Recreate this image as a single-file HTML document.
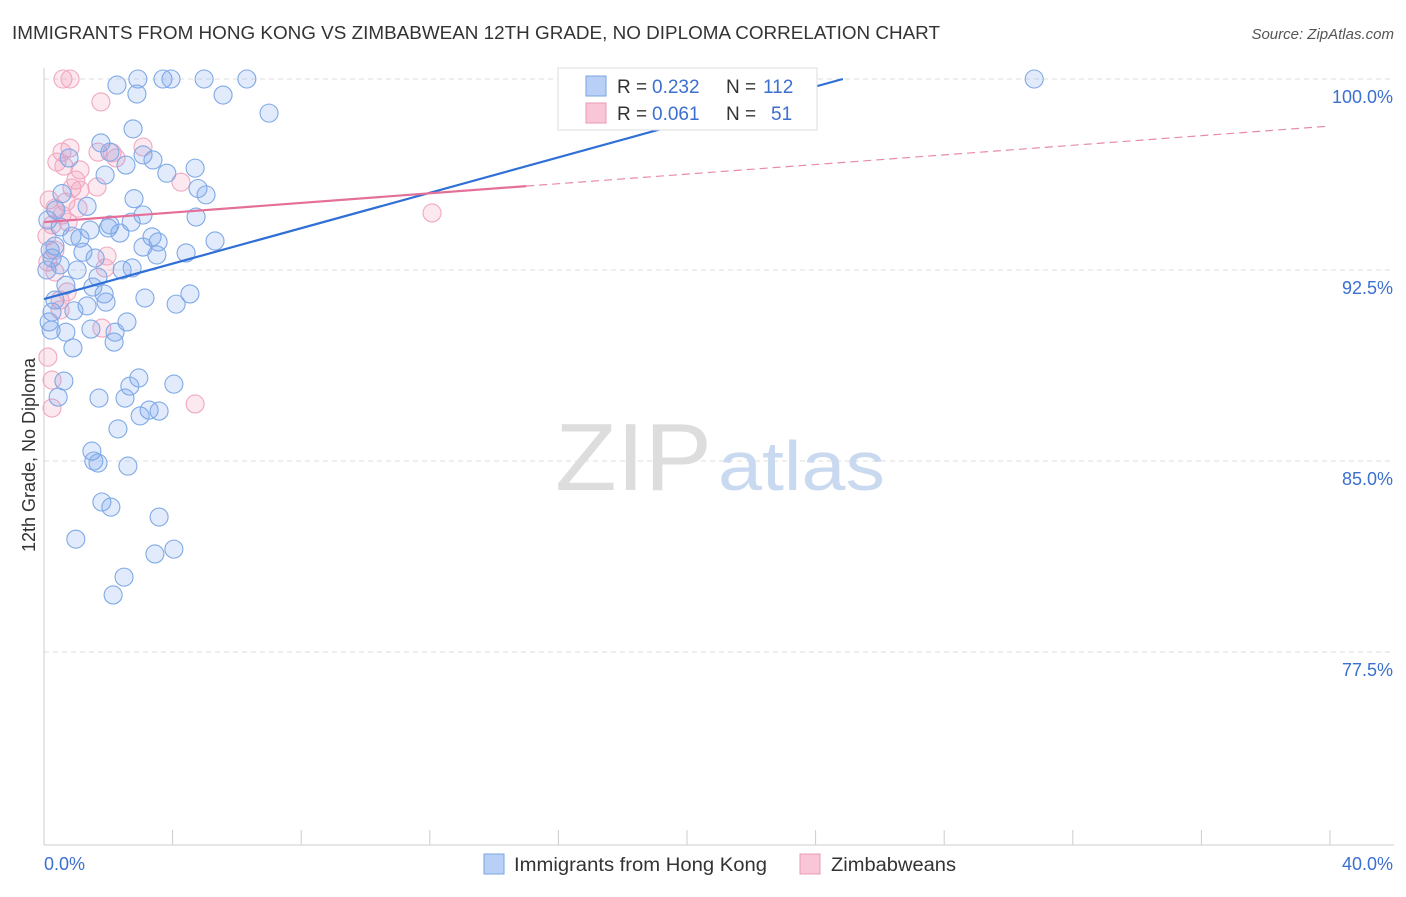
<!DOCTYPE html>
<html><head><meta charset="utf-8"><style>
body{margin:0;background:#fff;font-family:"Liberation Sans",sans-serif;}
svg text{font-family:"Liberation Sans",sans-serif;}
</style></head><body>
<svg width="1406" height="892" xmlns="http://www.w3.org/2000/svg">
<text x="12" y="39" font-size="18" fill="#333" textLength="928" lengthAdjust="spacingAndGlyphs">IMMIGRANTS FROM HONG KONG VS ZIMBABWEAN 12TH GRADE, NO DIPLOMA CORRELATION CHART</text>
<text x="1394" y="39" font-size="15" fill="#555" font-style="italic" text-anchor="end">Source: ZipAtlas.com</text>
<g id="grid"></g>
<g id="axes"></g>
<text x="555" y="490" font-size="96" fill="#ddd" font-family="Liberation Serif" textLength="157" lengthAdjust="spacingAndGlyphs">ZIP</text>
<text x="718" y="490" font-size="70" fill="#c9daf0" textLength="167" lengthAdjust="spacingAndGlyphs">atlas</text>
<g id="pts"></g>
<g id="lines"></g>
<text transform="translate(35,455) rotate(-90)" font-size="18" fill="#333" text-anchor="middle">12th Grade, No Diploma</text>
<g>
<rect x="558" y="68" width="259" height="62" fill="#fff" stroke="#ddd"/>
<rect x="586" y="76" width="20" height="20" fill="#b8d0f5" stroke="#7aa3e0"/>
<rect x="586" y="103" width="20" height="20" fill="#f8c6d6" stroke="#e89ab4"/>
<text x="617" y="93" font-size="19" fill="#333">R =</text>
<text x="652" y="93" font-size="19" fill="#3b6fd0">0.232</text>
<text x="726" y="93" font-size="19" fill="#333">N =</text>
<text x="763" y="93" font-size="19" fill="#3b6fd0">112</text>
<text x="617" y="120" font-size="19" fill="#333">R =</text>
<text x="652" y="120" font-size="19" fill="#3b6fd0">0.061</text>
<text x="726" y="120" font-size="19" fill="#333">N =</text>
<text x="771" y="120" font-size="19" fill="#3b6fd0">51</text>
</g>
<g>
<rect x="484" y="854" width="20" height="20" fill="#b8d0f5" stroke="#7aa3e0"/>
<text x="514" y="871" font-size="19" fill="#333" textLength="253" lengthAdjust="spacingAndGlyphs">Immigrants from Hong Kong</text>
<rect x="800" y="854" width="20" height="20" fill="#f8c6d6" stroke="#e89ab4"/>
<text x="831" y="871" font-size="19" fill="#333" textLength="125" lengthAdjust="spacingAndGlyphs">Zimbabweans</text>
</g>
</svg>
<script>
const yTicks=[100,92.5,85,77.5];
const yTickLabels=["100.0%","92.5%","85.0%","77.5%"];
const xLabels=["0.0%","40.0%"];
const blueX=[2.27,2.92,3.70,3.95,4.98,6.31,2.89,5.57,7.0,2.77,1.77,2.05,3.08,3.39,2.55,1.90,4.70,3.82,0.78,4.79,5.04,2.80,0.56,1.34,0.37,3.08,4.73,2.71,1.43,2.0,2.36,3.36,3.55,3.08,1.12,0.87,5.32,4.42,3.51,0.34,0.25,0.50,1.03,1.59,2.43,2.74,1.68,0.68,1.52,1.87,1.93,3.14,4.54,4.11,1.34,0.93,0.25,0.16,2.58,1.46,2.21,0.68,2.18,0.90,0.22,0.62,2.95,2.67,4.04,0.44,1.71,2.52,3.27,3.58,2.99,2.30,1.49,1.55,1.68,2.61,1.80,2.08,3.58,0.99,3.45,4.04,2.49,2.15,30.8,0.12,0.19,0.09,0.50,1.21,2.05,0.34];
const blueY=[99.76,100,100,100,100,100,99.41,99.37,98.66,98.04,97.49,97.13,97.02,96.82,96.62,96.23,96.5,96.3,96.9,95.7,95.45,95.3,95.5,95.0,94.86,94.66,94.58,94.38,94.07,94.15,93.95,93.8,93.6,93.4,93.75,93.83,93.64,93.17,93.09,93.44,92.97,92.7,92.5,92.97,92.5,92.58,92.22,91.9,91.83,91.56,91.24,91.4,91.56,91.16,91.09,90.9,90.85,90.46,90.46,90.18,90.06,90.06,89.67,89.44,90.14,88.14,88.26,87.94,88.02,87.51,87.47,87.47,87.0,86.96,86.77,86.26,85.39,85.0,84.92,84.80,83.39,83.19,82.8,81.93,81.35,81.54,80.44,79.74,100,94.46,93.28,92.5,94.19,93.2,94.27,91.32];
const pinkX=[0.59,0.81,1.77,3.08,0.81,0.56,1.68,2.12,2.24,0.40,0.62,1.12,0.99,1.65,4.26,0.87,0.16,0.68,1.06,0.34,0.56,12.07,0.25,0.09,0.34,1.96,0.12,0.34,1.90,0.72,0.50,1.80,0.12,0.25,4.70,0.25,0.50,1.12,0.75];
const pinkY=[100,100,99.1,97.33,97.29,97.13,97.13,97.1,96.9,96.74,96.58,96.43,96.03,95.76,95.95,95.72,95.25,95.17,94.93,94.93,94.66,94.74,94.27,93.83,93.28,93.05,92.81,92.42,92.58,91.64,91.32,90.22,89.08,88.18,87.24,87.08,90.93,95.64,94.38];
const blueTrend=[91.36,0.3477];
const pinkTrend=[94.38,0.0943];
const X0=44,X1=1330,Ytop=79;
const sx=v=>X0+(v/40)*(X1-X0);
const sy=v=>Ytop+(100-v)/7.5*191;
const NS="http://www.w3.org/2000/svg";
function mk(t,a,p){const e=document.createElementNS(NS,t);for(const k in a)e.setAttribute(k,a[k]);p.appendChild(e);return e;}
const grid=document.getElementById('grid'),axes=document.getElementById('axes');
yTicks.forEach((t,i)=>{
 const l=mk('line',{x1:44,x2:1394,y1:sy(t),y2:sy(t),stroke:'#ddd','stroke-dasharray':'5,4'},grid);
 
 
 const tx=mk('text',{x:1393,y:sy(t)+24,'font-size':18,fill:'#3b6fd0','text-anchor':'end'},axes);
 tx.textContent=yTickLabels[i];
 
 
});
mk('line',{x1:44,x2:44,y1:68,y2:845,stroke:'#ccc'},axes);
mk('line',{x1:44,x2:1394,y1:845,y2:845,stroke:'#ccc'},axes);
for(let i=0;i<=10;i++){const x=sx(i*4);const t=mk('line',{x1:x,x2:x,y1:830,y2:845,stroke:'#ccc'},axes);
 
 }
const xl0=mk('text',{x:44,y:870,'font-size':18,fill:'#3b6fd0'},axes);xl0.textContent=xLabels[0];


const xl1=mk('text',{x:1393,y:870,'font-size':18,fill:'#3b6fd0','text-anchor':'end'},axes);xl1.textContent=xLabels[1];


const pts=document.getElementById('pts');
pinkX.forEach((v,i)=>{const c=mk('circle',{cx:sx(v),cy:sy(pinkY[i]),r:9,fill:'rgba(240,150,180,0.22)',stroke:'#f0a8c0','stroke-width':1.1},pts);
 
 });
blueX.forEach((v,i)=>{const c=mk('circle',{cx:sx(v),cy:sy(blueY[i]),r:9,fill:'rgba(120,165,235,0.22)',stroke:'#7fa9e6','stroke-width':1.1},pts);
 
 });
const lines=document.getElementById('lines');
const bEnd=(100-blueTrend[0])/blueTrend[1];
const bl=mk('line',{x1:sx(0),y1:sy(blueTrend[0]),x2:sx(bEnd),y2:sy(100),stroke:'#2f6fd6','stroke-width':2.2},lines);


const pl=mk('line',{x1:sx(0),y1:sy(pinkTrend[0]),x2:sx(15),y2:sy(pinkTrend[0]+15*pinkTrend[1]),stroke:'#e4709a','stroke-width':2.2},lines);


const pd=mk('line',{x1:sx(15),y1:sy(pinkTrend[0]+15*pinkTrend[1]),x2:sx(40),y2:sy(pinkTrend[0]+40*pinkTrend[1]),stroke:'#e88aab','stroke-width':1.2,'stroke-dasharray':'8,5'},lines);


</script>
</body></html>
